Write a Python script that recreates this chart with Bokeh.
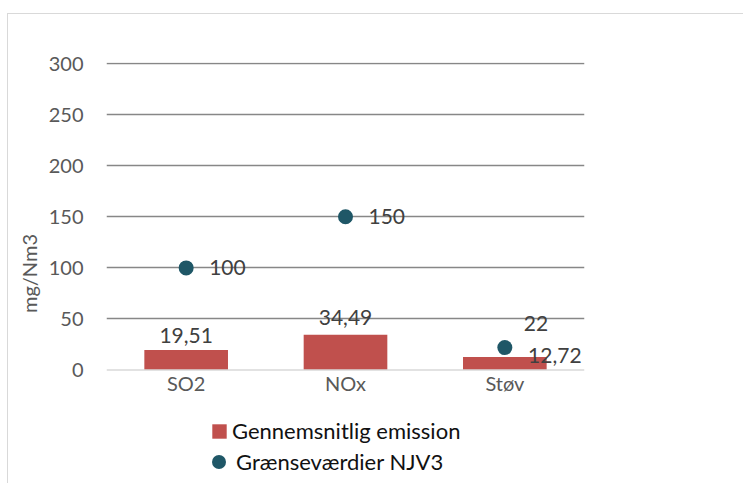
import math
from bokeh.plotting import figure
from bokeh.models import (FactorRange, Range1d, FixedTicker, Legend, LegendItem,
                          Title, ColumnDataSource, Span)
from bokeh.core.properties import value
from bokeh.embed import file_html
from bokeh.resources import INLINE

categories = ["SO2", "NOx", "Støv"]
emission = [19.51, 34.49, 12.72]
limits = [100, 150, 22]
emission_labels = ["19,51", "34,49", "12,72"]
limit_labels = ["100", "150", "22"]
y_ticks = [0, 50, 100, 150, 200, 250, 300]

# label placement (screen offsets, like the reference's manually placed labels)
em_dx = [0, 0, 50]
em_dy = [-15, -17, -2]
lim_dx = [23, 23, 19]
lim_dy = [0, 0, -24]

FONT = "Lato"
BAR = "#C0504D"
DOT = "#1F5767"

src = ColumnDataSource(dict(cat=categories, emission=emission, limits=limits,
                            em_lab=emission_labels, lim_lab=limit_labels,
                            em_dx=em_dx, em_dy=em_dy, lim_dx=lim_dx, lim_dy=lim_dy))

p = figure(x_range=FactorRange(*categories), y_range=Range1d(-112, 301),
           width=736, height=470, output_backend="svg", toolbar_location=None,
           min_border_left=98, min_border_right=160, min_border_top=48,
           min_border_bottom=0, margin=(13, 0, 0, 7),
           styles={"border-top": "1px solid #d9d9d9", "border-left": "1px solid #d9d9d9"})
p.outline_line_color = None
p.background_fill_color = "white"
p.border_fill_color = "white"
p.xaxis.visible = False

bars = p.vbar(x="cat", top="emission", width=0.525, source=src,
              fill_color=BAR, line_color=None)
dots = p.scatter(x="cat", y="limits", size=15, source=src,
                 fill_color=DOT, line_color=None)

p.text(x="cat", y="emission", text="em_lab", x_offset="em_dx", y_offset="em_dy",
       source=src, text_align="center", text_baseline="alphabetic",
       text_font=value(FONT), text_font_size="21px", text_color="#404040")
p.text(x="cat", y="limits", text="lim_lab", x_offset="lim_dx", y_offset="lim_dy",
       source=src, text_align="left", text_baseline="middle",
       text_font=value(FONT), text_font_size="21px", text_color="#404040")
# category axis labels
p.text(x="cat", y=0, text="cat", y_offset=13, source=src, text_align="center",
       text_baseline="middle", text_font=value(FONT), text_font_size="20px",
       text_color="#595959")

p.add_layout(Span(location=0, dimension="width", line_color="#d9d9d9", line_width=1.5))

p.xgrid.grid_line_color = None
p.ygrid.ticker = FixedTicker(ticks=y_ticks[1:])
p.ygrid.grid_line_color = "#878787"
p.ygrid.grid_line_width = 1.5

p.yaxis.ticker = FixedTicker(ticks=y_ticks)
p.yaxis.axis_line_color = None
p.yaxis.major_tick_line_color = None
p.yaxis.minor_tick_line_color = None
p.yaxis.major_label_standoff = 17
p.yaxis.major_label_text_font = FONT
p.yaxis.major_label_text_font_size = "20px"
p.yaxis.major_label_text_color = "#595959"

p.add_layout(Title(text="mg/Nm3", align="center", standoff=9,
                   text_font=FONT, text_font_size="20px", text_font_style="normal",
                   text_color="#595959"), "left")

leg1 = Legend(items=[LegendItem(label="Gennemsnitlig emission", renderers=[bars])],
              location=(104, 40), glyph_width=18, glyph_height=18, label_height=18,
              label_standoff=4, padding=0, margin=0, border_line_color=None,
              background_fill_alpha=0, label_text_font=FONT,
              label_text_font_size="22px", label_text_color="#111111")
leg2 = Legend(items=[LegendItem(label="Grænseværdier NJV3", renderers=[dots])],
              location=(95, 5), glyph_width=35, glyph_height=35, label_height=18,
              label_standoff=-4, padding=0, margin=0, border_line_color=None,
              background_fill_alpha=0, label_text_font=FONT,
              label_text_font_size="22px", label_text_color="#111111")
p.add_layout(leg1, "center")
p.add_layout(leg2, "center")

open("out.html", "w").write(file_html(p, INLINE))
